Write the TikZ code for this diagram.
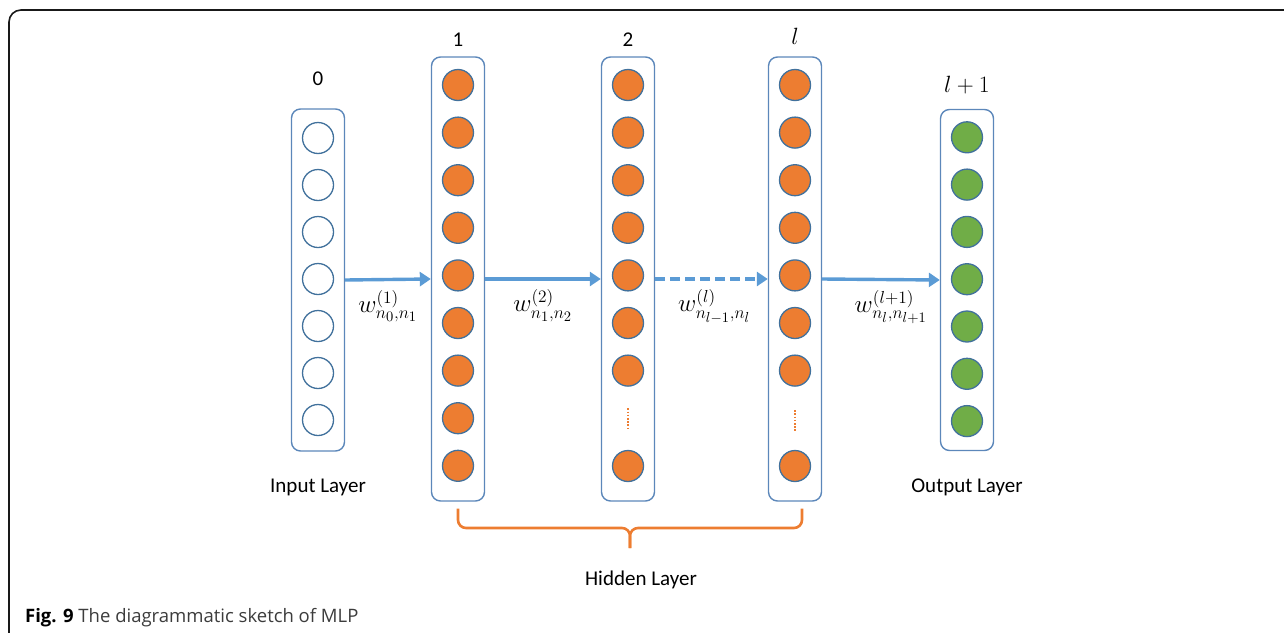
\RequirePackage{fix-cm}
\documentclass[tikz,border=0pt]{standalone}
\usepackage{fontspec}
\setmainfont{Carlito}
\newfontfamily\captionfont{Open Sans}
\usetikzlibrary{arrows.meta,positioning,calc}

\definecolor{boxblue}{RGB}{92,135,186}
\definecolor{ringblue}{RGB}{65,113,156}
\definecolor{arrowblue}{RGB}{91,155,213}
\definecolor{nodeorange}{RGB}{237,125,49}
\definecolor{nodegreen}{RGB}{112,173,71}
\definecolor{capgray}{RGB}{60,60,60}

% bigger math than the font sizes allow
\newcommand{\bigmath}[2][1.45]{\scalebox{#1}{$#2$}}

\begin{document}
\begin{tikzpicture}[
    x=1pt, y=-1pt,
    layer box/.style={rectangle,rounded corners=9pt,draw=boxblue,line width=1.4pt,minimum width=53pt,inner sep=0pt},
    in neuron/.style={circle,draw=ringblue,line width=1.3pt,minimum size=31pt,inner sep=0pt,fill=white},
    hid neuron/.style={in neuron,fill=nodeorange},
    out neuron/.style={in neuron,fill=nodegreen},
    weight arrow/.style={draw=arrowblue,line width=3.4pt,-{Triangle[length=11pt,width=14pt]}},
    dot line/.style={draw=nodeorange,line width=1.6pt,dash pattern=on 1.6pt off 1.6pt},
    brace line/.style={draw=nodeorange,line width=2.6pt,rounded corners=8pt},
    layer num/.style={inner sep=0pt,font=\fontsize{21}{25}\selectfont},
    layer name/.style={inner sep=0pt,font=\fontsize{21}{25}\selectfont},
    weight label/.style={inner sep=0pt,font=\fontsize{17.28}{21}\selectfont}
]
\clip (0,0) rectangle (1284,632);

% Frame
\draw[black!90,line width=1.6pt,rounded corners=12pt] (9,10) rectangle (1320,670);

% Layer boxes
\node[layer box, minimum height=342pt] (input) at (318,280) {};
\node[layer box, minimum height=444pt] (hid1) at (458,279) {};
\node[layer box, minimum height=444pt] (hid2) at (628,279) {};
\node[layer box, minimum height=444pt] (hidl) at (795,279) {};
\node[layer box, minimum height=341pt] (output) at (967,280) {};

% Neurons
\foreach \i in {1,...,7}
    \node[in neuron] (in\i) at (318,{91+47*\i}) {};
\foreach \i in {1,...,9}
    \node[hid neuron] (hid1n\i) at (458,{37.4+47.6*\i}) {};
\foreach \i in {1,...,7}
    \node[hid neuron] (hid2n\i) at (628,{37.4+47.6*\i}) {};
\node[hid neuron] (hid2n9) at (628,466) {};
\foreach \i in {1,...,7}
    \node[hid neuron] (hidln\i) at (795,{37.4+47.6*\i}) {};
\node[hid neuron] (hidln9) at (795,466) {};
\foreach \i in {1,...,7}
    \node[out neuron] (out\i) at (967,{90+47.3*\i}) {};

% Dots
\coordinate (hid2dots) at ($(hid2n7)!0.5!(hid2n9)$);
\coordinate (hidldots) at ($(hidln7)!0.52!(hidln9)$);
\draw[dot line] ([yshift=10pt]hid2dots) -- ([yshift=-11pt]hid2dots);
\draw[dot line] ([yshift=10pt]hidldots) -- ([yshift=-11pt]hidldots);

% Layer numbers
\node[layer num, above=22pt of input] (num0) {0};
\node[layer num, above=10pt of hid1] (num1) {1};
\node[layer num, above=10pt of hid2] (num2) {2};
\node[layer num, above=12pt of hidl] (numl) {\bigmath[1.12]{l}};
\node[layer num, above=15pt of output] (numout) {\bigmath[1.12]{l+1}};

% Arrows
\draw[weight arrow] (input.east) -- (hid1.west)
    node[weight label, midway, below=9pt] (w1) {\bigmath{w^{(1)}_{n_0,n_1}}};
\draw[weight arrow] (hid1.east) -- (hid2.west)
    node[weight label, midway, below=9pt] (w2) {\bigmath{w^{(2)}_{n_1,n_2}}};
\draw[weight arrow, dash pattern=on 10pt off 5pt] (hid2.east) -- (hidl.west)
    node[weight label, midway, below=9pt, xshift=3pt] (wl) {\bigmath{w^{(l)}_{n_{l-1},n_l}}};
\draw[weight arrow] (hidl.east) -- (output.west)
    node[weight label, midway, below=9pt, xshift=10pt] (wout) {\bigmath{w^{(l+1)}_{n_l,n_{l+1}}}};

% Layer names
\node[layer name, below=27pt of input] (inname) {Input Layer};
\node[layer name, below=27pt of output] (outname) {Output Layer};

% Brace
\coordinate (braceL) at ([yshift=-7pt]hid1.south);
\coordinate (braceR) at ([xshift=7pt,yshift=-7pt]hidl.south);
\coordinate (braceM) at (630,548);
\draw[brace line] (braceL) |- ($(braceM)+(0,-20)$) -- (braceM);
\draw[brace line] (braceR) |- ($(braceM)+(0,-20)$) -- (braceM);
\node[layer name] (hidname) at (641,580) {Hidden Layer};

% Caption
\node[anchor=base west, inner sep=0pt, font=\captionfont\fontsize{18.5}{22}\selectfont, text=capgray] (caption) at (25,622)
    {\textcolor{black}{\textbf{Fig. 9}} The diagrammatic sketch of MLP};

\end{tikzpicture}
\end{document}
